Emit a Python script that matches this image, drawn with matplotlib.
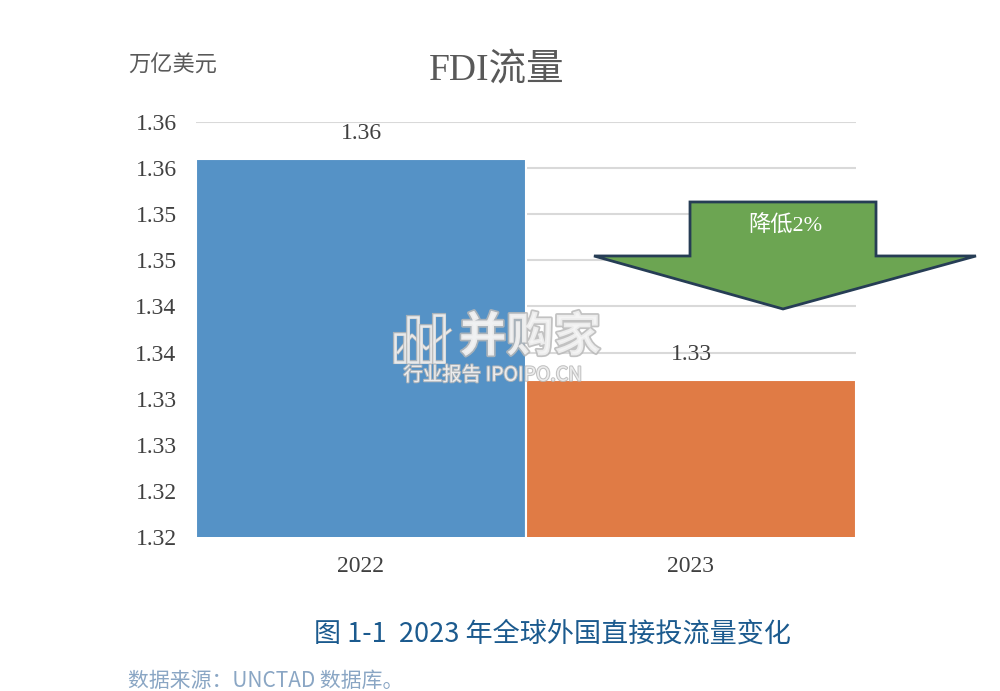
import matplotlib
matplotlib.use("Agg")
import matplotlib.pyplot as plt
import matplotlib.patheffects as pe
from matplotlib.patches import Polygon, Rectangle
from matplotlib.lines import Line2D

categories = ["2022", "2023"]
values = [1.356, 1.332]
colors = ["#5592c6", "#e07b45"]
yticks = [1.315, 1.320, 1.325, 1.330, 1.335, 1.340, 1.345, 1.350, 1.355, 1.360]

SERIF = ["Liberation Serif", "Noto Sans CJK SC"]
SANS = ["Noto Sans CJK SC", "DejaVu Sans"]

fig = plt.figure(figsize=(10, 6.91), dpi=100)
ax = fig.add_axes([0.196, 0.2229, 0.66, 0.6006])

x = list(range(len(categories)))
bars = ax.bar(x, values, width=1.0, color=colors, edgecolor="white", linewidth=1.5, zorder=2)
ax.set_xlim(-0.5, 1.5)
ax.set_ylim(yticks[0], yticks[-1])
ax.set_yticks(yticks)
ax.set_yticklabels([f"{t + 1e-9:.2f}" for t in yticks], family=SERIF, fontsize=17, color="#404040")
ax.set_xticks(x)
ax.set_xticklabels(categories, family=SERIF, fontsize=17, color="#404040")
ax.tick_params(axis="both", length=0)
ax.tick_params(axis="y", pad=14)
ax.tick_params(axis="x", pad=14)
ax.grid(axis="y", color="#d9d9d9", linewidth=1.5, zorder=0)
ax.set_axisbelow(True)
for s in ax.spines.values():
    s.set_visible(False)

for xi, v in zip(x, values):
    ax.annotate(f"{v:.2f}", xy=(xi, v), xytext=(0, 11), textcoords="offset points",
                ha="center", va="bottom", family=SERIF, fontsize=17, color="#404040")

# title & unit
fig.text(0.497, 0.898, "FDI流量", ha="center", va="center", family=SERIF, fontsize=27, color="#595959")
fig.text(0.128, 0.904, "万亿美元", ha="left", va="center", family=SERIF, fontsize=16, color="#595959")

# arrow annotation
pts = [(0.7485, 0.8072), (1.0303, 0.8072), (1.0303, 0.6771), (1.1818, 0.6771),
       (0.8894, 0.5494), (0.6030, 0.6771), (0.7485, 0.6771)]
arrow = Polygon(pts, closed=True, transform=ax.transAxes, facecolor="#6ca552",
                edgecolor="#263d55", linewidth=2, clip_on=False, zorder=5)
ax.add_patch(arrow)
ax.text(0.8924, 0.748, "降低2%", transform=ax.transAxes, ha="center", va="center",
        family=SERIF, fontsize=16, color="white", zorder=6)

# watermark
wm_fx = [pe.withStroke(linewidth=2.5, foreground="#b8b8b8")]
fig.text(0.530, 0.512, "并购家", ha="center", va="center", family=SANS, fontsize=34,
         fontweight="bold", color="#f4f4f4", alpha=0.85, path_effects=wm_fx, zorder=10)
fig.text(0.493, 0.457, "行业报告 IPOIPO.CN", ha="center", va="center", family=SANS, fontsize=14,
         color="#f4f4f4", alpha=0.85, path_effects=[pe.withStroke(linewidth=1.5, foreground="#b8b8b8")], zorder=10)
# watermark icon (decorative)
for bx, by, bw, bh in [(0.395, 0.171 + 0.305, 0.010, 0.040), (0.408, 0.171 + 0.305, 0.010, 0.065),
                       (0.421, 0.171 + 0.305, 0.010, 0.052), (0.434, 0.171 + 0.305, 0.010, 0.068)]:
    fig.patches.append(Rectangle((bx, by), bw, bh, transform=fig.transFigure, fill=False,
                                 edgecolor="#f4f4f4", linewidth=1.8, alpha=0.85, zorder=10,
                                 path_effects=[pe.withStroke(linewidth=3, foreground="#b8b8b8")]))
fig.lines.append(Line2D([0.398, 0.412, 0.426, 0.450], [0.490, 0.515, 0.495, 0.522],
                        transform=fig.transFigure, color="#f4f4f4", linewidth=1.5, alpha=0.85, zorder=10,
                        path_effects=[pe.withStroke(linewidth=2.5, foreground="#b8b8b8")]))

# caption & source
fig.text(0.553, 0.083, "图 1-1  2023 年全球外国直接投流量变化", ha="center", va="center",
         family=SANS, fontsize=19.5, color="#1b5a8e")
fig.text(0.128, 0.015, "数据来源：UNCTAD 数据库。", ha="left", va="center",
         family=SANS, fontsize=15, fontweight="light", color="#8aa6c4")

fig.savefig("out.png", dpi=100)
